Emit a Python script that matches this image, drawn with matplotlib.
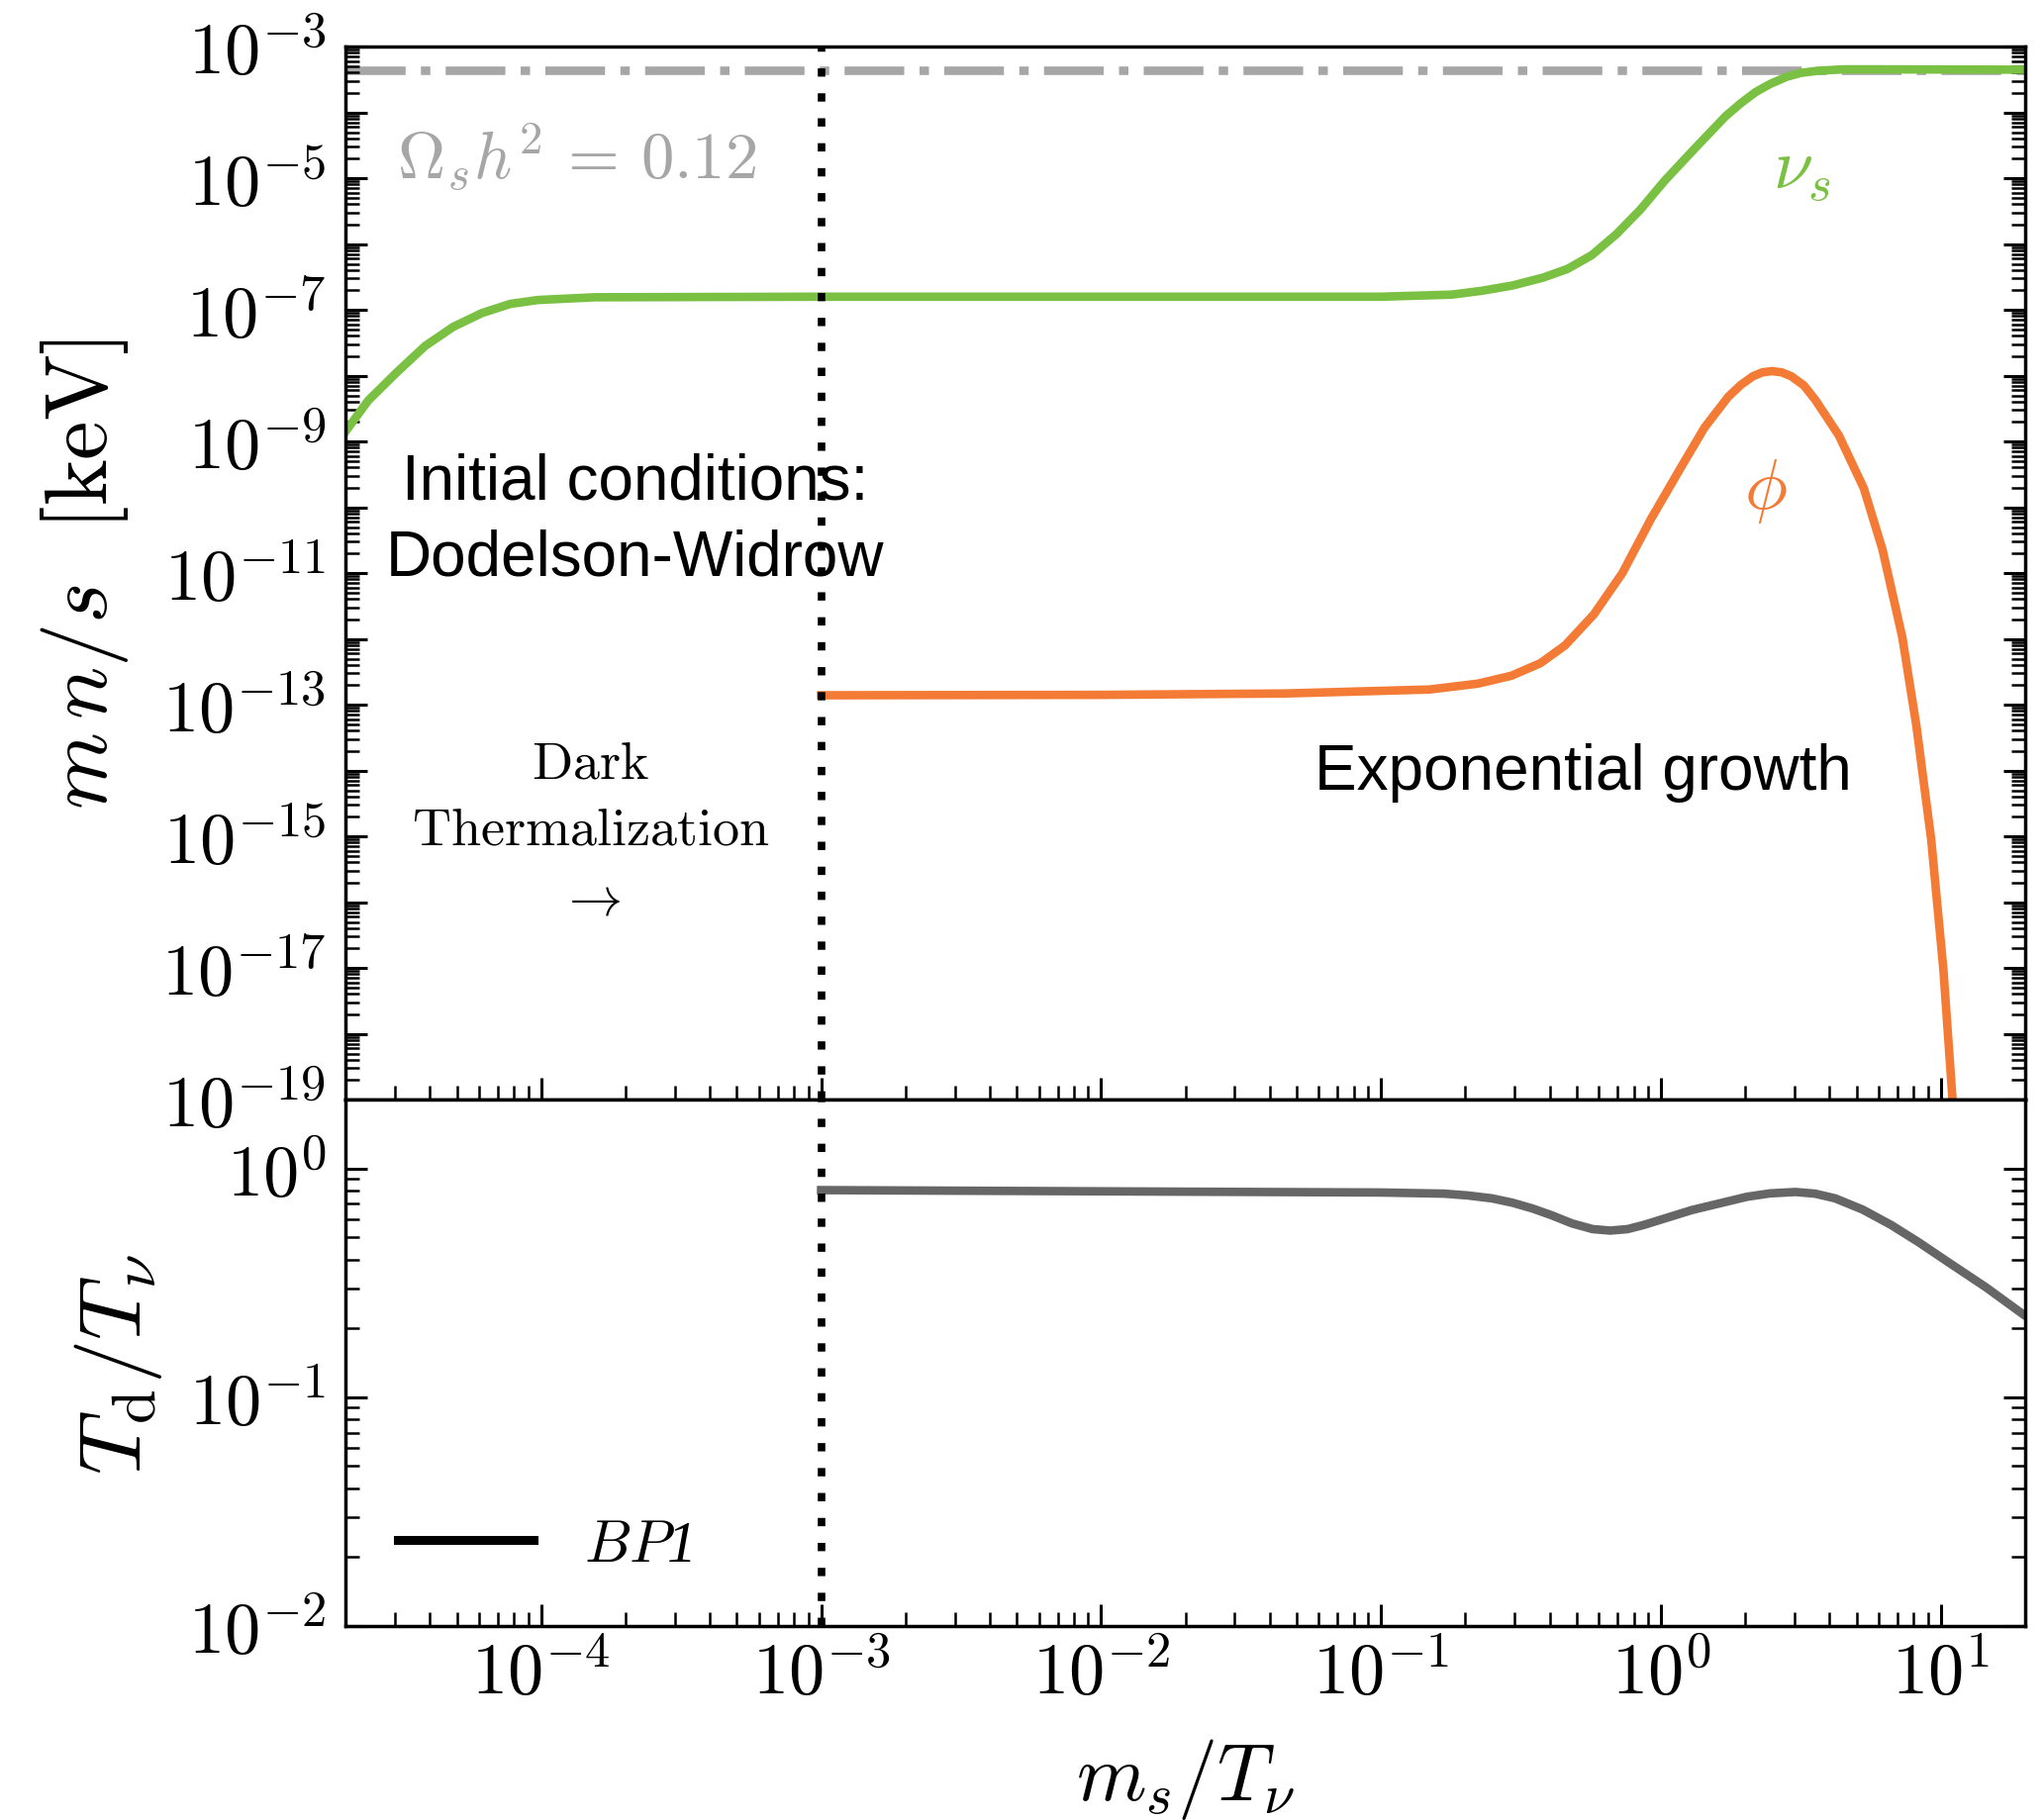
import numpy as np
import matplotlib
matplotlib.use("Agg")
import matplotlib.pyplot as plt
from matplotlib import ticker

plt.rcParams["mathtext.fontset"] = "cm"

GREEN = "#7ac143"
ORANGE = "#f47b36"
OMEGA_GREY = "#a6a6a6"
TD_GREY = "#666666"

# sterile neutrino energy density m n / s [keV]
x_nus = [2.00e-5, 2.41e-5, 3.05e-5, 3.85e-5, 4.85e-5, 6.14e-5, 7.76e-5, 9.75e-5,
         1.56e-4, 1.0e-3, 1.0e-2, 0.1, 0.179, 0.230, 0.295, 0.380, 0.463, 0.566,
         0.693, 0.843, 1.03, 1.32, 1.70, 1.93, 2.18, 2.45, 2.81, 3.16, 3.61, 4.47,
         5.94, 20.0]
y_nus = [1.41e-9, 4.17e-9, 1.12e-8, 2.82e-8, 5.50e-8, 8.91e-8, 1.23e-7, 1.41e-7,
         1.55e-7, 1.58e-7, 1.58e-7, 1.58e-7, 1.70e-7, 1.95e-7, 2.34e-7, 3.09e-7,
         4.17e-7, 6.76e-7, 1.41e-6, 3.31e-6, 9.12e-6, 2.82e-5, 8.71e-5, 1.38e-4,
         2.04e-4, 2.69e-4, 3.47e-4, 3.98e-4, 4.27e-4, 4.50e-4, 4.50e-4, 4.45e-4]

# scalar phi
x_phi = [1.0e-3, 1.0e-2, 0.0454, 0.149, 0.222, 0.292, 0.371, 0.454, 0.575, 0.728,
         0.923, 1.18, 1.43, 1.74, 1.93, 2.13, 2.30, 2.49, 2.70, 2.92, 3.24, 3.56,
         4.32, 5.30, 6.18, 7.28, 8.17, 9.23, 10.2, 11.0, 11.8]
y_phi = [1.39e-13, 1.41e-13, 1.48e-13, 1.70e-13, 2.09e-13, 2.75e-13, 4.27e-13,
         7.94e-13, 2.34e-12, 1.0e-11, 6.76e-11, 4.07e-10, 1.62e-9, 4.79e-9, 7.24e-9,
         9.77e-9, 1.12e-8, 1.17e-8, 1.12e-8, 9.77e-9, 7.08e-9, 4.27e-9, 1.23e-9,
         1.95e-10, 2.29e-11, 1.05e-12, 4.79e-14, 8.91e-16, 9.55e-18, 1.0e-19, 3.2e-21]

# dark sector temperature ratio T_d / T_nu
x_td = [1.0e-3, 0.0107, 0.0995, 0.168, 0.204, 0.249, 0.295, 0.348, 0.407, 0.481,
        0.570, 0.659, 0.760, 0.867, 1.29, 2.03, 2.45, 3.02, 3.55, 4.19, 5.25, 6.64,
        8.32, 10.5, 14.5, 19.6]
td_ratio = [0.804, 0.794, 0.785, 0.776, 0.762, 0.740, 0.708, 0.668, 0.624, 0.575,
            0.543, 0.535, 0.543, 0.566, 0.658, 0.752, 0.778, 0.789, 0.776, 0.740,
            0.661, 0.566, 0.476, 0.393, 0.302, 0.231]

omega_dm = 4.4e-4      # m n/s giving Omega_s h^2 = 0.12
x_start = 1.0e-3       # start of dark thermalization

fig, (ax, ax2) = plt.subplots(2, 1, sharex=True, figsize=(20.64, 18.40), dpi=100,
                              gridspec_kw=dict(height_ratios=[2, 1], hspace=0))
fig.subplots_adjust(left=0.1691, right=0.9913, top=0.9739, bottom=0.1065)

LW = 6.2

# --- upper panel ---
ax.axhline(omega_dm, color=OMEGA_GREY, lw=LW, dashes=(7, 1.8, 1.1, 1.8), zorder=1)
ax.plot(x_nus, y_nus, color=GREEN, lw=LW, solid_joinstyle="round", zorder=2)
ax.plot(x_phi, y_phi, color=ORANGE, lw=LW, solid_joinstyle="round", zorder=2)
ax.axvline(x_start, color="k", lw=5.5, dashes=(1.1, 2.2), zorder=3)

ax.text(3.05e-5, 1.0e-5, r"$\Omega_s h^2 \,=\, 0.12$", color=OMEGA_GREY, fontsize=48,
        ha="left", va="baseline")
ax.text(3.18, 1.4e-5, r"$\nu_s$", color=GREEN, fontsize=52, ha="center", va="center")
ax.text(2.37, 1.8e-10, r"$\phi$", color=ORANGE, fontsize=52, ha="center", va="center")

ax.text(2.16e-4, 1.35e-10, "Initial conditions:", family="Liberation Sans",
        fontsize=46, ha="center", va="baseline")
ax.text(2.16e-4, 9.55e-12, "Dodelson-Widrow", family="Liberation Sans",
        fontsize=46, ha="center", va="baseline")
ax.text(0.526, 5.2e-15, "Exponential growth", family="Liberation Sans",
        fontsize=46, ha="center", va="baseline")

ax.text(1.5e-4, 7.9e-15, r"$\mathrm{Dark}$", fontsize=39, ha="center", va="baseline")
ax.text(1.5e-4, 7.85e-16, r"$\mathrm{Thermalization}$", fontsize=39, ha="center",
        va="baseline")
ax.text(1.5e-4, 1.12e-16, r"$\rightarrow$", fontsize=39, ha="center", va="center")

ax.set_xscale("log")
ax.set_yscale("log")
ax.set_xlim(2e-5, 20)
ax.set_ylim(1e-19, 1e-3)
ax.yaxis.set_major_locator(ticker.FixedLocator(10.0 ** np.arange(-19, -2)))
ax.yaxis.set_minor_locator(ticker.LogLocator(base=10, subs=np.arange(2, 10), numticks=100))
ax.yaxis.set_major_formatter(ticker.FuncFormatter(
    lambda v, p: r"$10^{%d}$" % round(np.log10(v)) if round(np.log10(v)) % 2 else ""))
ax.yaxis.set_minor_formatter(ticker.NullFormatter())
ax.set_ylabel(r"$m\,n/s\ \ [\mathrm{keV}]$", fontsize=64)
ax.yaxis.set_label_coords(-0.128, 0.5)

# --- lower panel ---
ax2.plot(x_td, td_ratio, color=TD_GREY, lw=LW, solid_joinstyle="round")
ax2.axvline(x_start, color="k", lw=5.5, dashes=(1.1, 2.2), zorder=3)
ax2.plot([], [], color="k", lw=6.5, label=r"$BP$1")
ax2.legend(loc="lower left", bbox_to_anchor=(0.031, 0.10), frameon=False,
           prop=dict(family="Liberation Serif", style="italic", size=43),
           handlelength=2.3, handletextpad=0.85, borderpad=0, borderaxespad=0)

ax2.set_yscale("log")
ax2.set_ylim(1e-2, 2)
ax2.yaxis.set_major_locator(ticker.FixedLocator([1e-2, 1e-1, 1e0]))
ax2.yaxis.set_minor_locator(ticker.LogLocator(base=10, subs=np.arange(2, 10), numticks=100))
ax2.yaxis.set_major_formatter(ticker.FuncFormatter(
    lambda v, p: r"$10^{%d}$" % round(np.log10(v))))
ax2.yaxis.set_minor_formatter(ticker.NullFormatter())
ax2.set_ylabel(r"$T_{\mathrm{d}}/T_\nu$", fontsize=64)
ax2.yaxis.set_label_coords(-0.108, 0.5)

ax2.xaxis.set_major_locator(ticker.FixedLocator(10.0 ** np.arange(-5, 2)))
ax2.xaxis.set_minor_locator(ticker.LogLocator(base=10, subs=np.arange(2, 10), numticks=100))
ax2.xaxis.set_major_formatter(ticker.FuncFormatter(
    lambda v, p: r"$10^{%d}$" % round(np.log10(v))))
ax2.xaxis.set_minor_formatter(ticker.NullFormatter())
ax2.set_xlabel(r"$m_s/T_\nu$", fontsize=58)
ax2.xaxis.set_label_coords(0.5, -0.209)

for a in (ax, ax2):
    a.tick_params(which="both", direction="in", top=False, right=True)
    a.tick_params(which="major", length=16, width=2.2)
    a.tick_params(which="minor", length=10, width=1.8)
    a.tick_params(axis="x", labelsize=52, pad=10)
    a.tick_params(axis="y", labelsize=52, pad=14)
    for s in a.spines.values():
        s.set_linewidth(2.5)

fig.savefig("out.png", dpi=100)
